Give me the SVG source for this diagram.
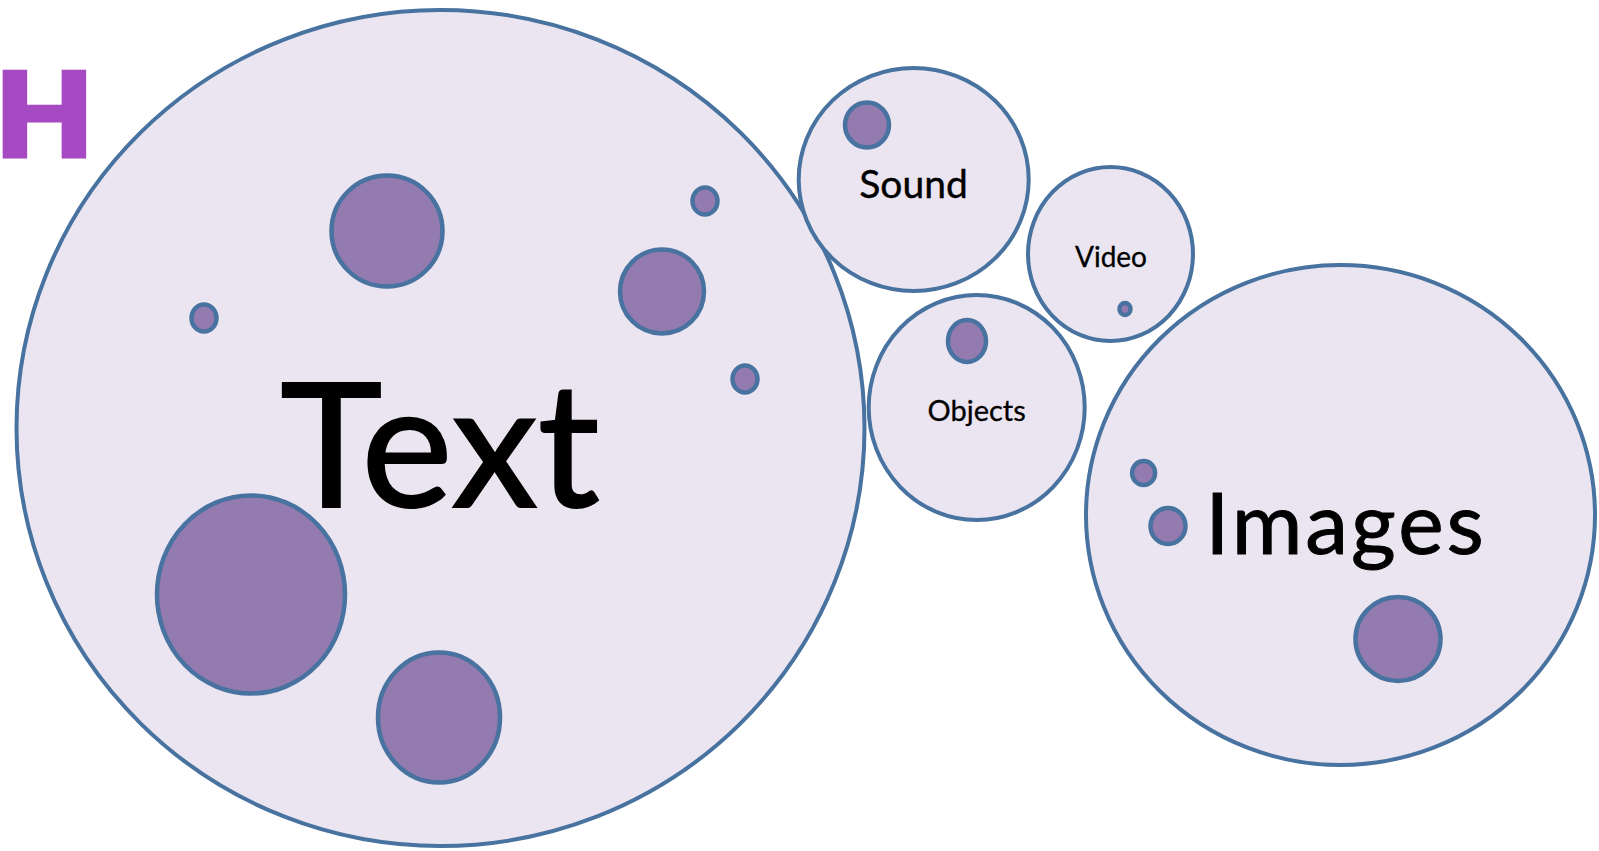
<svg xmlns="http://www.w3.org/2000/svg" width="1599" height="851" viewBox="0 0 1599 851">
<style>
.big{fill:#EAE5F0;stroke:#48729F;stroke-width:4}
.dot{fill:#937BB0;stroke:#48729F;stroke-width:4.5}
.lbl{font-family:Lato,"Open Sans","Liberation Sans",sans-serif;fill:#000;text-anchor:middle}
.logo{font-family:Lato,"DejaVu Sans",sans-serif;font-weight:700;fill:#A54AC2;stroke:#A54AC2;stroke-width:7;stroke-linejoin:miter}
</style>
<rect width="1599" height="851" fill="#FFFFFF"/>
<g id="logo"><text class="logo" transform="translate(-3.5 154.5) scale(1.1 1)" x="0" y="0" font-size="113">H</text></g>
<g id="connectors"/>
<g id="node-text">
<ellipse class="big" cx="440.5" cy="428" rx="424" ry="418"/>
<ellipse class="dot" cx="387" cy="231" rx="55.5" ry="55.5"/>
<ellipse class="dot" cx="204" cy="318" rx="12.5" ry="13.5"/>
<ellipse class="dot" cx="705" cy="201" rx="12.5" ry="13.5"/>
<ellipse class="dot" cx="662" cy="291.5" rx="42" ry="42"/>
<ellipse class="dot" cx="745" cy="379" rx="12.5" ry="13.5"/>
<ellipse class="dot" cx="251" cy="594.5" rx="94" ry="99"/>
<ellipse class="dot" cx="439" cy="717.5" rx="61" ry="65"/>
<text class="lbl" x="440" y="507" font-size="173" stroke="#000" stroke-width="2">Text</text>
</g>
<g id="node-sound">
<ellipse class="big" cx="913.7" cy="179.5" rx="115" ry="111.5"/>
<ellipse class="dot" cx="867" cy="125" rx="22" ry="22.5"/>
<text class="lbl" x="913.5" y="198" font-size="39" stroke="#000" stroke-width="0.4">Sound</text>
</g>
<g id="node-video">
<ellipse class="big" cx="1110.5" cy="254" rx="82.5" ry="87"/>
<ellipse class="dot" cx="1125" cy="309" rx="5.5" ry="6"/>
<text class="lbl" x="1111" y="266.5" font-size="28" stroke="#000" stroke-width="0.3">Video</text>
</g>
<g id="node-objects">
<ellipse class="big" cx="976.7" cy="407.5" rx="108" ry="112.5"/>
<ellipse class="dot" cx="967" cy="341" rx="19" ry="21"/>
<text class="lbl" x="976.7" y="421" font-size="29" stroke="#000" stroke-width="0.3">Objects</text>
</g>
<g id="node-images">
<ellipse class="big" cx="1340.5" cy="515" rx="254.5" ry="250"/>
<ellipse class="dot" cx="1143.6" cy="473" rx="11.5" ry="12"/>
<ellipse class="dot" cx="1168" cy="526" rx="17.5" ry="18"/>
<ellipse class="dot" cx="1398" cy="639" rx="42.5" ry="42"/>
<text class="lbl" x="1346" y="554" font-size="86" letter-spacing="3" stroke="#000" stroke-width="1">Images</text>
</g>
</svg>
